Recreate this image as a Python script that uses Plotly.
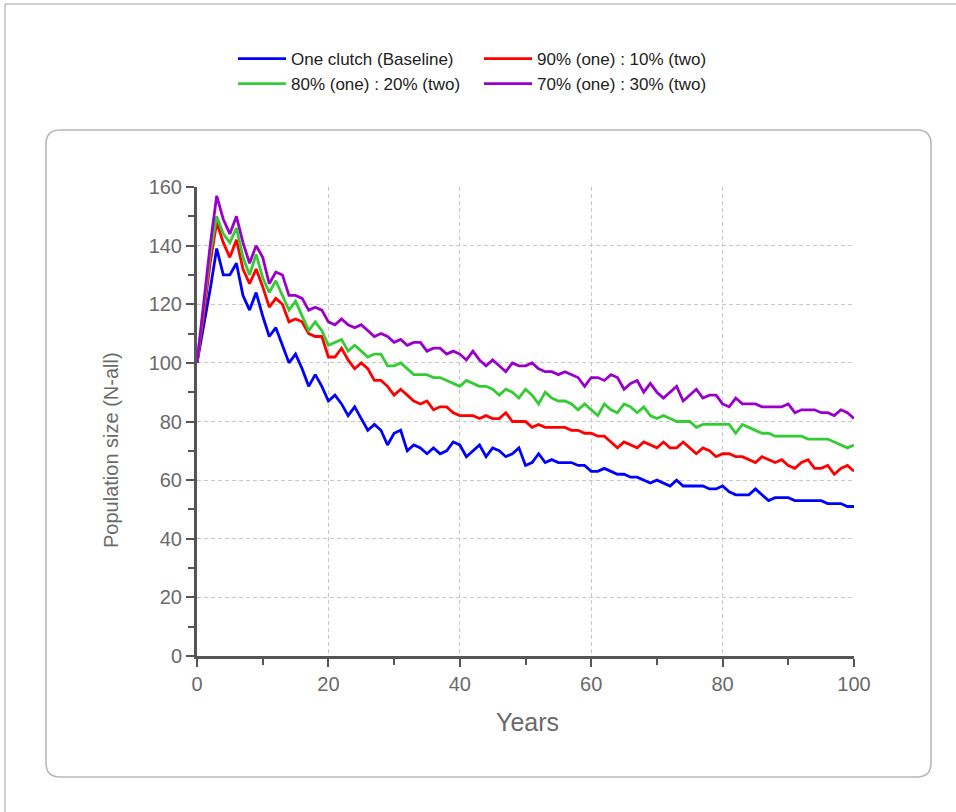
import plotly.graph_objects as go

years = list(range(0, 101))

baseline = [100, 112, 125, 139, 130, 130, 134, 123, 118, 124, 116, 109, 112, 106, 100, 103, 98, 92, 96, 92,
            87, 89, 86, 82, 85, 81, 77, 79, 77, 72, 76, 77, 70, 72, 71, 69, 71, 69, 70, 73,
            72, 68, 70, 72, 68, 71, 70, 68, 69, 71, 65, 66, 69, 66, 67, 66, 66, 66, 65, 65,
            63, 63, 64, 63, 62, 62, 61, 61, 60, 59, 60, 59, 58, 60, 58, 58, 58, 58, 57, 57,
            58, 56, 55, 55, 55, 57, 55, 53, 54, 54, 54, 53, 53, 53, 53, 53, 52, 52, 52, 51, 51]

p90_10 = [100, 116, 134, 148, 141, 136, 142, 132, 127, 132, 126, 119, 122, 120, 114, 115, 114, 110, 109, 109,
          102, 102, 105, 101, 98, 100, 98, 94, 94, 92, 89, 91, 89, 87, 86, 87, 84, 85, 85, 83,
          82, 82, 82, 81, 82, 81, 81, 83, 80, 80, 80, 78, 79, 78, 78, 78, 78, 77, 77, 76,
          76, 75, 75, 73, 71, 73, 72, 71, 73, 72, 71, 73, 71, 71, 73, 71, 69, 71, 70, 68,
          69, 69, 68, 68, 67, 66, 68, 67, 66, 67, 65, 64, 66, 67, 64, 64, 65, 62, 64, 65, 63]

p80_20 = [100, 118, 137, 150, 144, 141, 146, 136, 130, 137, 129, 124, 128, 123, 118, 121, 116, 111, 114, 111,
          106, 107, 108, 104, 106, 104, 102, 103, 103, 99, 99, 100, 98, 96, 96, 96, 95, 95, 94, 93,
          92, 94, 93, 92, 92, 91, 89, 91, 90, 88, 91, 89, 86, 90, 88, 87, 87, 86, 84, 86,
          84, 82, 86, 84, 83, 86, 85, 83, 85, 82, 81, 82, 81, 80, 80, 80, 78, 79, 79, 79,
          79, 79, 76, 79, 78, 77, 76, 76, 75, 75, 75, 75, 75, 74, 74, 74, 74, 73, 72, 71, 72]

p70_30 = [100, 120, 140, 157, 149, 144, 150, 141, 134, 140, 136, 127, 131, 130, 123, 123, 122, 118, 119, 118,
          114, 113, 115, 113, 112, 113, 111, 109, 110, 109, 107, 108, 106, 107, 107, 104, 105, 105, 103, 104,
          103, 101, 104, 101, 99, 101, 99, 97, 100, 99, 99, 100, 98, 97, 97, 96, 97, 96, 95, 92,
          95, 95, 94, 96, 95, 91, 93, 94, 90, 93, 90, 88, 90, 92, 87, 89, 91, 88, 89, 89,
          86, 85, 88, 86, 86, 86, 85, 85, 85, 85, 86, 83, 84, 84, 84, 83, 83, 82, 84, 83, 81]

names = ["One clutch (Baseline)", "90% (one) : 10% (two)", "80% (one) : 20% (two)", "70% (one) : 30% (two)"]
colors = ["#0000ff", "#ff0000", "#33cc33", "#9900cc"]
series = [baseline, p90_10, p80_20, p70_30]
legend_ids = ["legend", "legend2", "legend", "legend2"]

FONT = "Liberation Sans, Arial, sans-serif"

fig = go.Figure()
for name, col, vals, lg in zip(names, colors, series, legend_ids):
    fig.add_trace(go.Scatter(x=years, y=vals, mode="lines", name=name,
                             line=dict(color=col, width=2.8), legend=lg))

# pixel geometry of the plotting area
PL, PR, PT, PB = 197, 854, 187, 656
W, H = 956, 812
def X(px):
    return (px - PL) / (PR - PL)
def Y(py):
    return (PB - py) / (PB - PT)

L, R, T, B, r = 46, 931, 130, 777, 14
path = (f"M {X(L+r)},{Y(T)} L {X(R-r)},{Y(T)} Q {X(R)},{Y(T)} {X(R)},{Y(T+r)} "
        f"L {X(R)},{Y(B-r)} Q {X(R)},{Y(B)} {X(R-r)},{Y(B)} "
        f"L {X(L+r)},{Y(B)} Q {X(L)},{Y(B)} {X(L)},{Y(B-r)} "
        f"L {X(L)},{Y(T+r)} Q {X(L)},{Y(T)} {X(L+r)},{Y(T)} Z")

shapes = [
    dict(type="path", xref="paper", yref="paper", path=path, layer="below",
         line=dict(color="#b8b8b8", width=1.6), fillcolor="rgba(0,0,0,0)"),
    dict(type="line", xref="paper", yref="paper", x0=X(5), x1=X(W), y0=Y(4), y1=Y(4),
         line=dict(color="#a0a0a0", width=1)),
    dict(type="line", xref="paper", yref="paper", x0=X(5), x1=X(5), y0=Y(4), y1=Y(H),
         line=dict(color="#a0a0a0", width=1)),
]

tick_font = dict(family=FONT, size=20, color="#6a6a6a")
axis_common = dict(showline=True, linecolor="#555555", linewidth=3, mirror=False,
                   ticks="outside", ticklen=8, tickwidth=2, tickcolor="#555555",
                   showgrid=True, gridcolor="#c8c8c8", griddash="4px,3px", gridwidth=1,
                   zeroline=False, tickfont=tick_font)

annotations = [
    dict(text="Years", xref="paper", yref="paper", x=X(527), y=Y(722),
         xanchor="center", yanchor="middle", showarrow=False,
         font=dict(family=FONT, size=25, color="#6a6a6a")),
    dict(text="Population size (N-all)", xref="paper", yref="paper", x=X(111), y=Y(450),
         xanchor="center", yanchor="middle", showarrow=False, textangle=-90,
         font=dict(family=FONT, size=20, color="#6a6a6a")),
]

leg_common = dict(yanchor="top", xanchor="left", orientation="v",
                  font=dict(family=FONT, size=17, color="#222222"), bgcolor="rgba(0,0,0,0)",
                  tracegroupgap=0, itemwidth=48)

fig.update_layout(
    width=W, height=H,
    margin=dict(l=PL, r=W - PR, t=PT, b=H - PB, pad=0),
    paper_bgcolor="white", plot_bgcolor="white",
    font=dict(family=FONT, color="#333333"),
    shapes=shapes,
    annotations=annotations,
    xaxis=dict(range=[0, 100], tickvals=[0, 20, 40, 60, 80, 100],
               minor=dict(tickvals=[10, 30, 50, 70, 90], ticks="outside", ticklen=6,
                          tickwidth=2, tickcolor="#555555", showgrid=False),
               **axis_common),
    yaxis=dict(range=[0, 160], tickvals=[0, 20, 40, 60, 80, 100, 120, 140, 160],
               minor=dict(tickvals=[10, 30, 50, 70, 90, 110, 130, 150], ticks="outside", ticklen=6,
                          tickwidth=2, tickcolor="#555555", showgrid=False),
               **axis_common),
    legend=dict(x=X(233), y=Y(41), **leg_common),
    legend2=dict(x=X(479), y=Y(41), **leg_common),
)

fig.write_html("out.html")
